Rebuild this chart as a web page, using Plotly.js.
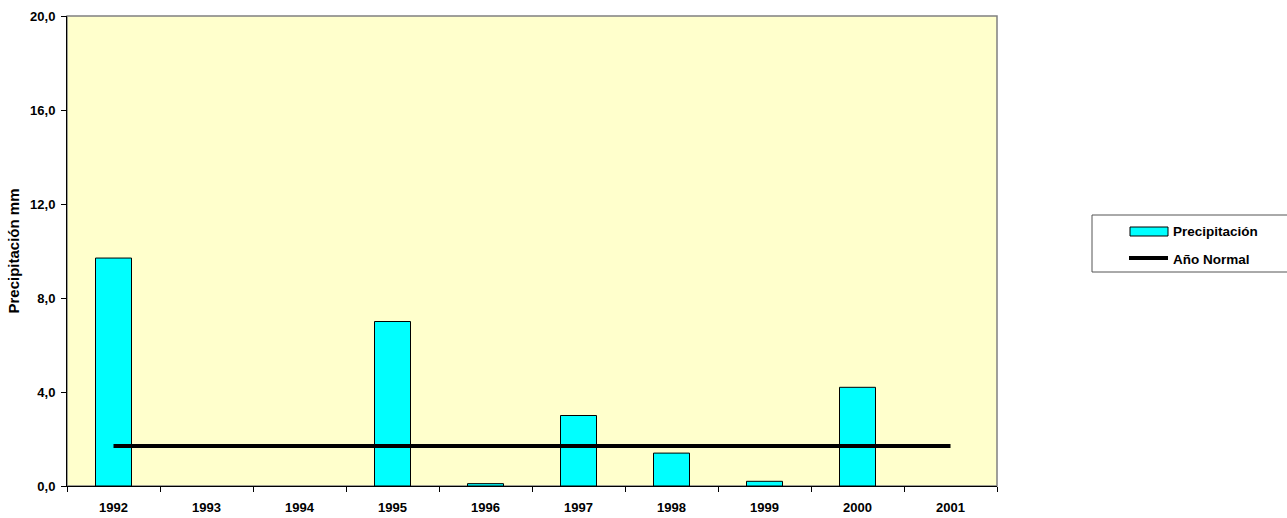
<!DOCTYPE html>
<html>
<head>
<meta charset="utf-8">
<script src="https://cdn.plot.ly/plotly-3.0.1.min.js"></script>
<style>html,body{margin:0;padding:0;background:#fff;}#chart{width:1287px;height:518px;}</style>
</head>
<body>
<div id="chart"></div>
<script>
var years = ['1992','1993','1994','1995','1996','1997','1998','1999','2000','2001'];
var precipitacion = [9.7, null, null, 7.0, 0.1, 3.0, 1.4, 0.2, 4.2, null];
var anoNormal = [1.7, 1.7, 1.7, 1.7, 1.7, 1.7, 1.7, 1.7, 1.7, 1.7];
var seriesNames = ['Precipitación', 'Año Normal'];
var yTitle = 'Precipitación mm';

var W = 1287, H = 518;
var M = {l: 67, r: 290, t: 16, b: 32};
var PW = W - M.l - M.r, PH = H - M.t - M.b;
function px(x) { return (x - M.l) / PW; }
function py(y) { return (H - M.b - y) / PH; }

var FONT = 'Liberation Sans, Arial, sans-serif';

var traces = [
  {
    type: 'bar', x: years, y: precipitacion, name: seriesNames[0],
    marker: {color: '#00FFFF', line: {color: '#000000', width: 1}},
    hoverinfo: 'x+y', showlegend: false
  },
  {
    type: 'scatter', mode: 'lines', x: years, y: anoNormal, name: seriesNames[1],
    line: {color: '#000000', width: 4}, showlegend: false
  }
];

var boundaries = years.map(function (_, i) { return i - 0.5; }).concat([years.length - 0.5]);

var layout = {
  width: W, height: H,
  margin: M,
  paper_bgcolor: '#ffffff',
  plot_bgcolor: '#FFFFCC',
  separators: ',.',
  bargap: 0.613,
  showlegend: false,
  font: {family: FONT, size: 12, color: '#000000', weight: 'bold'},
  xaxis: {
    type: 'category', range: [-0.5, years.length - 0.5],
    showline: true, linecolor: '#000000', linewidth: 1,
    ticks: 'outside', ticklen: 5, tickcolor: '#000000', tickwidth: 1,
    tickson: 'boundaries', showgrid: false, zeroline: false,
    ticklabelstandoff: 9,
    tickfont: {family: FONT, size: 13, color: '#000', weight: 'bold'},
    fixedrange: true
  },
  yaxis: {
    range: [0, 20], dtick: 4, tick0: 0, tickformat: '.1f',
    showline: true, linecolor: '#000000', linewidth: 1,
    ticks: 'outside', ticklen: 5, tickcolor: '#000000', tickwidth: 1,
    showgrid: false, zeroline: false,
    ticklabelstandoff: 3,
    tickfont: {family: FONT, size: 13, color: '#000', weight: 'bold'},
    title: {text: yTitle, font: {family: FONT, size: 15, color: '#000', weight: 'bold'}, standoff: 6},
    fixedrange: true
  },
  xaxis2: {
    overlaying: 'x', anchor: 'y', range: [-0.5, years.length - 0.5],
    tickmode: 'array', tickvals: boundaries, showticklabels: false,
    ticks: 'inside', ticklen: 5, tickcolor: '#000', tickwidth: 1,
    showgrid: false, zeroline: false, showline: false, fixedrange: true
  },
  yaxis2: {
    overlaying: 'y', anchor: 'x', range: [0, 20], dtick: 4,
    showticklabels: false,
    ticks: 'inside', ticklen: 5, tickcolor: '#000', tickwidth: 1,
    showgrid: false, zeroline: false, showline: false, fixedrange: true
  },
  shapes: [
    {type: 'rect', xref: 'paper', yref: 'paper', x0: 0, x1: 1, y0: 0, y1: 1,
     line: {color: '#808080', width: 1.5}, layer: 'below'},
    {type: 'rect', xref: 'paper', yref: 'paper', x0: px(1092), x1: px(1300), y0: py(272), y1: py(215),
     line: {color: '#555555', width: 1}, fillcolor: '#ffffff'},
    {type: 'rect', xref: 'paper', yref: 'paper', x0: px(1130), x1: px(1168), y0: py(236), y1: py(227),
     line: {color: '#000000', width: 1}, fillcolor: '#00FFFF'},
    {type: 'line', xref: 'paper', yref: 'paper', x0: px(1129), x1: px(1168), y0: py(258), y1: py(258),
     line: {color: '#000000', width: 4}}
  ],
  annotations: [
    {xref: 'paper', yref: 'paper', x: px(1171), y: py(231), xanchor: 'left', yanchor: 'middle',
     text: seriesNames[0], showarrow: false, font: {family: FONT, size: 13.5, color: '#000', weight: 'bold'}},
    {xref: 'paper', yref: 'paper', x: px(1171), y: py(259), xanchor: 'left', yanchor: 'middle',
     text: seriesNames[1], showarrow: false, font: {family: FONT, size: 13.5, color: '#000', weight: 'bold'}}
  ]
};

Plotly.newPlot('chart', traces, layout, {displayModeBar: false, staticPlot: true});
</script>
</body>
</html>
